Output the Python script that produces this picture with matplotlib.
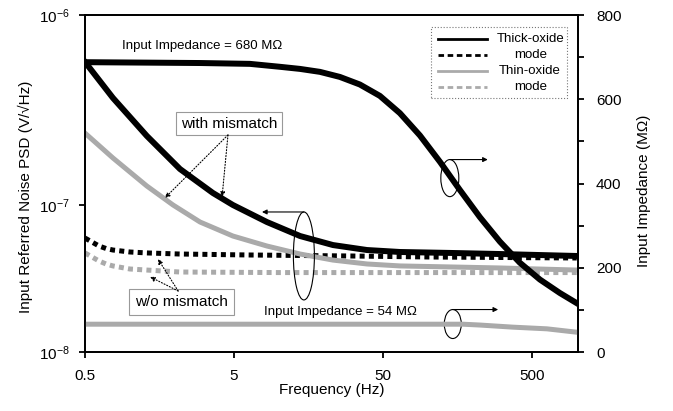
import numpy as np
import matplotlib
matplotlib.use('Agg')
import matplotlib.pyplot as plt
from matplotlib.patches import Ellipse, Rectangle
from matplotlib.lines import Line2D
from matplotlib.ticker import FixedLocator, MultipleLocator, NullLocator

plt.rcParams['font.family'] = ['Liberation Sans', 'DejaVu Sans']
plt.rcParams['mathtext.default'] = 'regular'

GRAY = '#aaaaaa'

# noise PSD (V/sqrt(Hz)), left axis
f_thick_mm = [0.5, 0.77, 1.3, 2.17, 3.61, 4.92, 8.32, 13.9, 23.1, 39.1, 65.1, 141, 305, 1000]
n_thick_mm = [5.66e-7, 3.66e-7, 2.31e-7, 1.547e-7, 1.157e-7, 1.0e-7, 7.66e-8,
              6.15e-8, 5.34e-8, 4.94e-8, 4.79e-8, 4.72e-8, 4.64e-8, 4.50e-8]

f_thin_mm = [0.5, 0.77, 1.3, 1.95, 2.96, 4.92, 8.32, 13.9, 23.1, 39.1, 65.1, 141, 305, 1000]
n_thin_mm = [2.39e-7, 1.768e-7, 1.259e-7, 1.0e-7, 7.66e-8, 6.15e-8, 5.26e-8,
             4.64e-8, 4.22e-8, 3.97e-8, 3.85e-8, 3.79e-8, 3.73e-8, 3.61e-8]

f_thick = [0.5, 0.557, 0.621, 0.692, 0.77, 1.0, 1.3, 2.17, 6.4, 30, 100, 1000]
n_thick = [5.96e-8, 5.60e-8, 5.26e-8, 5.06e-8, 4.94e-8, 4.79e-8, 4.72e-8, 4.64e-8,
           4.57e-8, 4.5e-8, 4.43e-8, 4.36e-8]

f_thin = [0.5, 0.557, 0.621, 0.692, 0.77, 1.0, 1.3, 2.17, 10, 1000]
n_thin = [4.72e-8, 4.43e-8, 4.16e-8, 3.97e-8, 3.85e-8, 3.67e-8, 3.61e-8, 3.50e-8,
          3.47e-8, 3.47e-8]

# input impedance (MOhm), right axis
f_z_thick = [0.5, 2.96, 6.4, 10.2, 13.9, 18.9, 25.7, 35.0, 47.7, 65.0, 88.6, 121,
             164, 224, 305, 415, 566, 771, 1000]
z_thick = [688, 686, 684, 677, 672, 665, 653, 635, 608, 567, 514, 451,
           385, 320, 262, 212, 172, 140, 116]

f_z_thin = [0.5, 172, 224, 372, 631, 1000]
z_thin = [66, 66, 64, 59, 55, 47]

x_ticks = [0.5, 5, 50, 500]
x_labels = ['0.5', '5', '50', '500']
y_ticks = [1e-8, 1e-7, 1e-6]
y_labels = [r'$10^{-8}$', r'$10^{-7}$', r'$10^{-6}$']


# left axis decades are not evenly spaced in the original
def fwd(v):
    t = np.log10(np.clip(np.asarray(v, dtype=float), 1e-12, None))
    return np.where(t <= -7, (t + 8) * 147.0, 147.0 + (t + 7) * 190.0)


def inv(y):
    y = np.asarray(y, dtype=float)
    return np.where(y <= 147, 10 ** (y / 147.0 - 8), 10 ** ((y - 147) / 190.0 - 7))


fig = plt.figure(figsize=(6.73, 4.11), dpi=100)
ax = fig.add_axes([85 / 673, 1 - 352 / 411, 493 / 673, 337 / 411])
ax2 = ax.twinx()

ax.set_xscale('log')
ax.set_xlim(0.5, 1020)
ax.set_yscale('function', functions=(fwd, inv))
ax.set_ylim(1e-8, 1e-6)
ax2.set_ylim(0, 800)

ax.plot(f_thick, n_thick, color='black', lw=3.6, ls=(0, (1.0, 0.85)))
ax.plot(f_thin, n_thin, color=GRAY, lw=3.6, ls=(0, (1.0, 0.85)))
ax.plot(f_thin_mm, n_thin_mm, color=GRAY, lw=3.6)
ax.plot(f_thick_mm, n_thick_mm, color='black', lw=4.3)

ax2.plot(f_z_thick, z_thick, color='black', lw=4.3)
ax2.plot(f_z_thin, z_thin, color=GRAY, lw=3.6)

ax.set_xticks(x_ticks)
ax.set_xticklabels(x_labels)
ax.xaxis.set_minor_locator(NullLocator())
ax.yaxis.set_major_locator(FixedLocator(y_ticks))
ax.set_yticklabels(y_labels)
ax.yaxis.set_minor_locator(NullLocator())
ax2.yaxis.set_major_locator(MultipleLocator(200))
ax2.yaxis.set_minor_locator(MultipleLocator(100))

for a in (ax, ax2):
    for s in a.spines.values():
        s.set_linewidth(1.3)
ax.tick_params(axis='x', which='both', direction='out', length=4, width=1.3, labelsize=11, pad=8)
ax.tick_params(axis='y', which='both', direction='out', length=4, width=1.3, labelsize=11, pad=7)
ax2.tick_params(axis='y', which='both', direction='out', length=4, width=1.3, labelsize=11, pad=9)

ax.set_xlabel('Frequency (Hz)', fontsize=11)
ax.xaxis.set_label_coords(0.5, -0.093)
ax.set_ylabel('Input Referred Noise PSD (V/√Hz)', fontsize=11)
ax.yaxis.set_label_coords(-0.105, 0.46)
ax2.set_ylabel('Input Impedance (MΩ)', fontsize=11)
ax2.yaxis.set_label_coords(1.12, 0.478)

T = ax2.transAxes
ax2.text(0.075, 0.908, 'Input Impedance = 680 MΩ', transform=T, fontsize=9.5, va='center')
ax2.text(0.363, 0.119, 'Input Impedance = 54 MΩ', transform=T, fontsize=9.5, va='center')

box = dict(boxstyle='square,pad=0.3', fc='white', ec='#999999', lw=0.8)
ax2.text(0.292, 0.677, 'with mismatch', transform=T, fontsize=11, ha='center', va='center', bbox=box)
box2 = dict(boxstyle='square,pad=0.4', fc='white', ec='#999999', lw=0.8)
ax2.text(0.195, 0.148, 'w/o mismatch', transform=T, fontsize=11, ha='center', va='center', bbox=box2)

dot_arrow = dict(arrowstyle='-|>', ls=':', lw=0.8, color='black', mutation_scale=7, shrinkA=0, shrinkB=0)
for start, end in [((0.290, 0.644), (0.162, 0.457)), ((0.290, 0.644), (0.278, 0.460)),
                   ((0.189, 0.181), (0.148, 0.276)), ((0.189, 0.181), (0.132, 0.223))]:
    ax2.annotate('', xy=end, xytext=start, xycoords='axes fraction', arrowprops=dot_arrow)

arrow = dict(arrowstyle='-|>', lw=0.8, color='black', mutation_scale=7, shrinkA=0, shrinkB=0)
for (cx, cy, w, h), tip in [((0.740, 0.516, 0.0365, 0.110), 0.817),
                            ((0.444, 0.285, 0.0426, 0.261), 0.359),
                            ((0.746, 0.083, 0.0345, 0.086), 0.838)]:
    ax2.add_patch(Ellipse((cx, cy), w, h, transform=T, fill=False, ec='black', lw=0.8))
    ax2.annotate('', xy=(tip, cy + h / 2), xytext=(cx, cy + h / 2), xycoords='axes fraction',
                 arrowprops=arrow)

# legend
ax2.add_patch(Rectangle((0.702, 0.754), 0.276, 0.210, transform=T, fc='white',
                        ec='#777777', lw=0.8, ls=':', zorder=5))
leg_rows = [('Thick-oxide', 'black', '-'), ('mode', 'black', (0, (2, 1.3))),
            ('Thin-oxide', GRAY, '-'), ('mode', GRAY, (0, (2, 1.3)))]
for i, (lab, c, ls) in enumerate(leg_rows):
    yy = 0.929 - i * 0.0477
    ax2.add_line(Line2D([0.716, 0.815], [yy, yy], transform=T, color=c, lw=2, ls=ls, zorder=6))
    ax2.text(0.903, yy, lab, transform=T, fontsize=9.5, ha='center', va='center', zorder=6)

fig.savefig('out.png', dpi=100)
